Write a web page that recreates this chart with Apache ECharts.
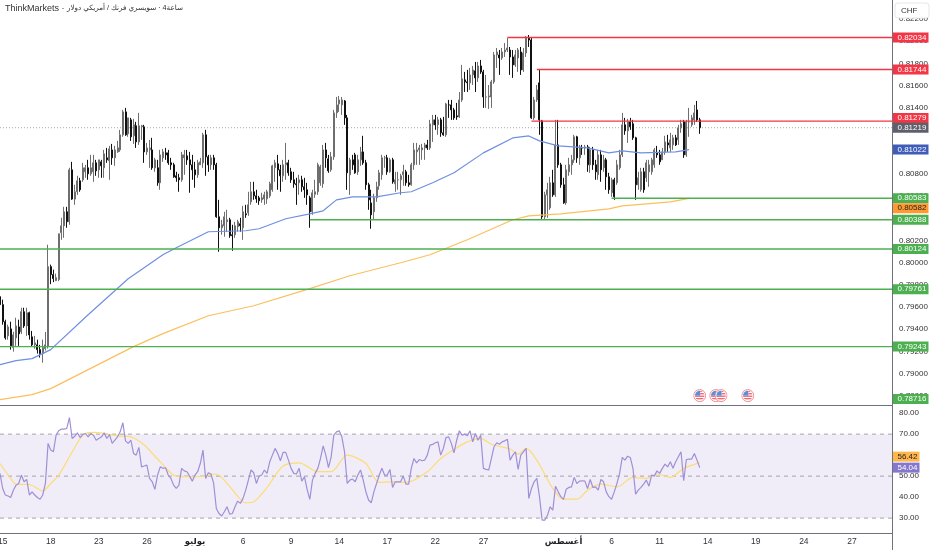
<!DOCTYPE html>
<html><head><meta charset="utf-8">
<style>html,body{margin:0;padding:0;background:#fff}#c{width:932px;height:550px}</style>
<script src="https://cdn.jsdelivr.net/npm/echarts@6/dist/echarts.min.js"></script>
</head><body><div id="c"></div>
<script>
// Prices are in units of 0.00001 CHF
const opens=[79694,79622,79468,79340,79403,79234,79322,79421,79376,79558,79430,79549,79331,79259,79259,79216,79180,79225,79243,79965,79893,79839,79848,80271,80334,80460,80370,80839,80575,80641,80740,80749,80821,80857,80803,80821,80902,80839,80911,80857,80947,80920,81019,80947,81001,81019,81155,81362,81164,81290,81146,81236,81091,81227,81227,81001,81019,81019,80857,80857,80722,80947,80992,80992,80902,80884,80785,80767,80749,80947,80965,80929,80884,80839,80794,80884,80902,81155,80956,80884,80947,80884,80415,80316,80334,80370,80388,80253,80253,80325,80352,80316,80442,80451,80550,80641,80604,80586,80568,80577,80577,80604,80659,80857,80893,80839,80785,80884,80902,80821,80749,80713,80722,80749,80686,80659,80586,80460,80618,80641,80722,80713,81019,80938,80839,80956,81353,81434,81425,81461,81308,80794,80929,80974,80821,80929,81001,80902,80704,80540,80460,80586,80695,80794,80947,80947,80821,80929,80713,80749,80749,80794,80821,80722,80704,80884,81001,81019,81019,81037,81064,81037,81245,81290,81245,81290,81173,81155,81425,81425,81380,81326,81317,81470,81651,81633,81624,81696,81732,81669,81777,81723,81497,81497,81497,81633,81876,81876,81849,81903,81921,81921,81858,81786,81849,81903,81741,81894,82029,82011,81308,81470,81624,81281,80415,80613,80496,80722,80613,81064,80884,80704,80541,80821,80884,80929,81137,80947,81037,81037,81046,80884,81019,80884,80794,80974,80857,80929,80776,80632,80749,80722,80857,80974,81245,81191,81272,81254,81128,80704,80659,80821,80767,80821,80821,80884,80992,80974,80929,81001,81082,81037,81064,81128,81109,81218,81272,80974,81272,81245,81290,81380,81290];
const closes=[79622,79468,79322,79421,79250,79349,79430,79358,79558,79430,79549,79349,79259,79277,79216,79180,79234,79259,79965,79893,79857,79866,80262,80334,80460,80370,80839,80575,80641,80740,80659,80857,80857,80803,80857,80902,80830,80929,80875,80983,80929,81028,80947,81019,81037,81155,81362,81155,81308,81137,81245,81091,81236,81236,81001,81037,81037,80857,80929,80722,80974,81001,80974,80902,80884,80776,80767,80749,80974,80974,80929,80884,80839,80794,80902,80911,81155,80956,80884,80947,80884,80415,80316,80343,80415,80388,80244,80244,80334,80370,80334,80460,80433,80523,80641,80604,80577,80559,80586,80613,80641,80713,80875,80902,80839,80785,80884,80902,80812,80749,80713,80704,80749,80686,80659,80613,80460,80632,80641,80884,80866,81019,80947,80830,80956,81353,81425,81470,81470,81308,80812,80929,80884,80812,80929,81001,80902,80704,80568,80433,80586,80686,80812,80947,80947,80821,80929,80731,80749,80749,80785,80821,80722,80704,80884,81019,81019,81037,81037,81064,81037,81254,81290,81245,81290,81173,81155,81434,81425,81380,81308,81317,81470,81660,81633,81624,81696,81741,81669,81777,81723,81497,81497,81506,81633,81876,81903,81849,81903,81921,81939,81858,81786,81876,81921,81741,81894,82038,82011,81308,81470,81560,81290,80415,80613,80659,80722,80613,81064,80884,80704,80541,80839,80884,80929,81137,80947,81046,81037,81046,80884,81019,80884,80821,80974,80839,80929,80776,80659,80749,80595,80884,80974,81245,81191,81272,81227,81128,80704,80767,80821,80659,80902,80884,80929,81019,80974,80911,81001,81091,81064,81109,81128,81064,81218,81254,80974,81272,81272,81308,81353,81290,81219];
const highs=[79730,79667,79486,79441,79468,79376,79504,79486,79594,79594,79594,79558,79385,79340,79306,79259,79306,79376,80163,79983,79938,79902,80262,80406,80505,80505,80857,80911,80704,80785,80767,80902,80884,80929,80974,80974,80929,80929,80929,81019,81037,81055,81073,81055,81100,81200,81380,81398,81308,81308,81299,81272,81353,81245,81245,81082,81109,81128,80947,80929,81019,81028,81037,81019,80947,80902,80821,80803,81001,81019,81019,81001,80974,80911,80929,80947,81173,81200,80974,80974,80974,80902,80568,80388,80460,80478,80406,80343,80370,80388,80406,80514,80523,80641,80731,80731,80659,80604,80632,80641,80659,80731,80884,80929,80974,80884,80929,81082,80929,80857,80821,80767,80794,80785,80767,80722,80604,80659,80749,80902,80884,81064,81082,80974,81001,81380,81497,81506,81497,81470,81335,80947,80974,80992,80974,81046,81146,80929,80722,80659,80623,80731,80839,80974,80965,80974,80947,80947,80821,80821,80803,80884,80839,80794,80902,81082,81082,81064,81073,81082,81109,81290,81335,81335,81317,81308,81317,81443,81470,81470,81398,81443,81542,81786,81723,81741,81759,81777,81813,81813,81831,81741,81696,81605,81651,81903,81939,81921,81939,81984,82029,81948,81921,81921,81939,81948,81939,82047,82056,82038,81497,81605,81741,81290,80641,80722,80776,80839,81290,81290,80902,80767,80884,80947,80974,81155,81146,81064,81064,81064,81064,81046,81046,80929,81019,81019,80974,80947,80812,80767,80767,80929,81019,81353,81308,81299,81308,81290,81137,80821,80857,80857,80929,80929,80947,81037,81055,81019,81037,81146,81155,81173,81155,81155,81245,81290,81290,81290,81398,81335,81425,81461,81308];
const lows=[79594,79441,79306,79306,79216,79198,79250,79250,79358,79412,79340,79306,79243,79225,79180,79144,79098,79207,79225,79807,79825,79834,79834,80207,80225,80316,80343,80568,80523,80613,80641,80731,80767,80749,80785,80731,80785,80767,80767,80767,80902,80749,80884,80875,80992,81001,81137,81146,81137,81100,81073,81037,81064,81109,80902,80974,80857,80839,80821,80695,80659,80911,80929,80884,80839,80767,80731,80641,80731,80794,80884,80632,80749,80677,80767,80884,80857,80785,80821,80839,80839,80406,80099,80253,80235,80280,80225,80108,80225,80280,80280,80207,80406,80424,80523,80568,80541,80523,80541,80523,80532,80586,80641,80731,80659,80641,80731,80749,80785,80722,80677,80523,80613,80641,80586,80523,80316,80433,80586,80613,80695,80677,80857,80812,80821,80929,81308,81362,81335,81245,80659,80613,80839,80803,80794,80875,80884,80659,80478,80307,80388,80550,80659,80749,80857,80794,80812,80713,80641,80659,80613,80695,80695,80686,80695,80839,80884,80884,80929,80929,81019,81019,81091,81200,81155,81137,81146,81137,81308,81290,81290,81290,81308,81452,81542,81542,81560,81605,81542,81633,81705,81398,81398,81389,81398,81615,81759,81696,81831,81858,81903,81696,81669,81768,81723,81696,81723,81858,81948,81299,81290,81452,81155,80396,80396,80406,80478,80595,80595,80857,80677,80532,80523,80785,80794,80902,80902,80884,80974,80974,80821,80812,80839,80749,80749,80731,80821,80659,80623,80595,80568,80704,80839,80956,81155,81082,81200,81109,80568,80659,80641,80632,80731,80686,80794,80857,80947,80884,80929,80974,81001,81001,81019,81055,81064,81173,80947,80956,81137,81227,81245,81272,81164];

const rsi=[51.3,44.1,41,40.5,39.8,43.3,45.7,46.5,50.5,47.3,48.4,41,42.5,41,39.8,39,41,46.5,65.6,62.4,61.6,69.5,71.6,72.4,72.4,72.7,77.9,67.9,69,70.6,68.4,69.8,70.3,68.7,70.3,69.5,67.1,67.9,68.7,70.6,67.9,69.8,65.6,67.1,68.7,71.1,75.4,66.8,65.6,67.1,60.8,60,63.7,54.4,54.8,55.2,48.9,47.3,43.7,50.5,54.4,53.7,54,50.5,48.9,45.7,44.1,45.7,53.7,52.5,52.1,50,47.6,50.5,52.1,56,62.4,48.9,51.6,51,46.5,34.6,32.2,31,33,35.4,31.9,32.2,35.4,38.1,37,39.4,43.3,48.1,52.9,51.6,46.5,50,50.5,52.9,51.3,56.8,60,63.2,60.8,57.3,61.3,61.3,57.6,53.7,51.3,51,53.7,47.6,49.7,43.7,38.9,48.1,51.3,53.7,58.4,64.4,60,54.1,59.2,69.5,71.1,71.6,68.7,61.6,46.5,48.1,
48.6,47.3,50.5,52.9,48.1,42.5,38.6,37.3,42.5,46.5,50.5,53.7,50.5,50.5,53.2,44.6,47.3,47.3,47.3,50,46.2,46.2,53.7,58.4,56.3,57.9,57.3,57.6,60,64.8,65.1,65.9,66.3,60,63.2,68.4,68.7,65.6,61.1,67.1,71.6,69.5,70,69.2,71.6,66.3,70.3,67.1,69.5,53.7,53.2,52.9,58.4,64,65.9,65.2,66.3,66.8,67.5,57.6,60,61.6,53.2,60,61.6,63.2,39.4,44.1,47.3,48.9,40.2,29,29,31.4,35.4,33.8,45.2,42.5,40.2,38.9,43.7,44.6,44.9,49.4,46.5,47.6,47.8,47.6,44.1,48.4,44.6,44.9,43.3,48.4,47.3,42.5,40.2,39,42.5,46.5,51.3,58.9,57.6,59.5,58.9,53.7,41.4,43.3,44.6,46.2,48.1,45.2,50.5,50,52.5,51.3,53.7,55.7,54.4,56.8,53.7,56.8,59.2,61.6,47.8,57.9,58.1,58.1,60.8,57.6,54.04];
// RSI moving average, read at the bars where its bends are visible
const rsiMaBars=[0,4,6,11,16,19,22,26,30,32,35,39,44,49,54,60,66,74,81,85,90,92,95,100,106,112,119,124,130,137,142,147,152,160,165,170,175,180,184,191,194,197,201,207,211,216,220,225,231,237,242,246,251,256,262];
const rsiMaVals=[56,48.9,46.2,46,43,46.5,50.5,59.2,67.9,70.3,70.8,70.3,69.2,68.7,64.8,56.8,50,49.7,51,46.5,38.9,37.3,37.8,44.6,54.8,56.3,52.1,52.1,60,56,47,47.3,47,52.1,58.4,62.7,66.3,67.9,65.2,62.9,60.5,63.2,57.6,44.1,39,39,43.3,46.2,44.9,49.4,48.9,51,49.4,53.7,56.42];
// Moving averages on the price pane
const blueBars=[0,6,12,19,33,48,61,66,78,92,97,107,116,121,126,132,141,150,154,162,170,181,192,198,202,209,220,228,233,240,253,258];
const blueVals=[79080,79117,79135,79216,79531,79856,80072,80136,80280,80289,80307,80397,80442,80469,80568,80595,80595,80632,80641,80722,80812,80992,81127,81145,81100,81055,81037,80992,81010,80992,81001,81022];
const orangeBars=[0,12,19,50,61,78,95,116,131,150,161,175,192,198,210,228,233,251,258];
const orangeVals=[78765,78810,78864,79243,79360,79522,79612,79766,79883,80000,80072,80208,80388,80424,80442,80487,80514,80550,80582];

const levelVals=[0.82034,0.81744,0.81279,0.80583,0.80388,0.80124,0.79761,0.79243];
const levelStartBars=[190,201,199,229,116,0,0,0];
const levelColors=['#f23645','#f23645','#f23645','#4caf50','#4caf50','#4caf50','#4caf50','#4caf50'];
const lastPrice=0.81219;

const tagVals=[0.82034,0.81744,0.81279,0.81219,0.81022,0.80583,0.80582,0.80388,0.80124,0.79761,0.79243,0.78716];
const tagColors=['#f23645','#f23645','#f23645','#5d606b','#3f5cb8','#4caf50','#ff9a33','#4caf50','#4caf50','#4caf50','#4caf50','#4caf50'];
const tagText=['#fff','#fff','#fff','#fff','#fff','#fff','#222','#fff','#fff','#fff','#fff','#fff'];
const tagShift=[0,0,-3,0,0,0,10,0,0,0,0,-6];

const rsiTagVals=[56.42,54.04];
const rsiTagColors=['#ffb74d','#8577cc'];
const rsiTagText=['#222','#fff'];
const rsiTagShift=[-6,0];

const priceTicks=[0.822,0.82,0.818,0.816,0.814,0.812,0.81,0.808,0.806,0.804,0.802,0.8,0.798,0.796,0.794,0.792,0.79,0.788];
const rsiTicks=[80,70,60,50,40,30];
const rsiBands=[70,50,30];

const tickBars=[1,19,37,55,73,91,109,127,145,163,181,211,229,247,265,283,301,319];
const tickLabels=['15','18','23','26','يوليو','6','9','14','17','22','27','أغسطس','6','11','14','19','24','27'];
const boldTicks=['يوليو','أغسطس'];
const flagBars=[262,268,270,280];
const flagPrice=0.78801;

const titleLatin='ThinkMarkets ·';
const titleParts=['دولار','أمريكي','/','فرنك','سويسري','·','4ساعة'];
const barCount=335, lastBar=barCount-1;
const font='"Liberation Sans","DejaVu Sans",sans-serif';

const flagSvg='<svg xmlns="http://www.w3.org/2000/svg" width="26" height="26" viewBox="0 0 26 26"><defs><clipPath id="a"><circle cx="13" cy="13" r="9.5"/></clipPath></defs><circle cx="13" cy="13" r="12" fill="#fff" stroke="#f58a94" stroke-width="2"/><g clip-path="url(#a)"><rect width="26" height="26" fill="#fff"/><rect y="13" width="26" height="2.5" fill="#ef5a67"/><rect y="18" width="26" height="2.5" fill="#ef5a67"/><rect y="3" x="14" width="12" height="2.5" fill="#ef5a67"/><rect y="8" x="14" width="12" height="2.5" fill="#ef5a67"/><rect width="14" height="13" fill="#5b8fd8"/></g></svg>';
const flagSymbol='image://data:image/svg+xml;charset=utf-8,'+encodeURIComponent(flagSvg);

const categories=Array.from({length:barCount},(_,i)=>{const k=tickBars.indexOf(i);return k<0?'':tickLabels[k];});
const candles=opens.map((o,i)=>[o/1e5,closes[i]/1e5,lows[i]/1e5,highs[i]/1e5]);
const pairs=(b,v,s)=>b.map((x,i)=>[x,v[i]*s]);
const tagLabel=(color,text,shift,w,fmt)=>({show:true,position:'right',distance:0,offset:[0,shift],width:w,height:10,lineHeight:10,padding:[0,0,0,5],opacity:1,
  backgroundColor:color,color:text,fontSize:8,fontFamily:font,align:'left',verticalAlign:'middle',formatter:fmt});

const chart=echarts.init(document.getElementById('c'),null,{renderer:'canvas'});
const xBase={type:'category',data:categories,boundaryGap:false,axisTick:{show:false},splitLine:{show:false}};
chart.setOption({
 animation:false,backgroundColor:'#fff',
 title:{text:'{t|'+titleLatin+'\u00A0}'+titleParts.map(p=>'{a|'+p+'\u00A0}').join(''),left:5,top:4,padding:0,
  textStyle:{fontSize:9,color:'#333',fontFamily:font,rich:{t:{fontSize:9,fontWeight:'normal',color:'#333',fontFamily:font},a:{fontSize:7.2,fontWeight:'normal',color:'#333',fontFamily:font}}}},
 grid:[{left:0,right:40,top:0,height:405,outerBoundsMode:'none'},{left:0,right:40,top:406,height:127,outerBoundsMode:'none'}],
 xAxis:[
  {...xBase,gridIndex:0,axisLine:{show:true,lineStyle:{color:'#6f727c',width:1}},axisLabel:{show:false}},
  {...xBase,gridIndex:1,axisLine:{show:true,lineStyle:{color:'#6f727c',width:1}},
   axisLabel:{show:true,interval:0,margin:4,color:'#333',fontSize:8.5,fontFamily:font,
    formatter:v=>boldTicks.includes(v)?'{b|'+v+'}':v,rich:{b:{fontWeight:'bold',fontSize:8.5,color:'#222',fontFamily:font}}}}
 ],
 yAxis:[
  {type:'value',gridIndex:0,position:'right',min:0.78716,max:0.82372,scale:true,axisLine:{show:false},splitLine:{show:false},
   axisTick:{show:false,customValues:priceTicks},
   axisLabel:{show:true,customValues:priceTicks,inside:false,margin:7,color:'#333',fontSize:8,fontFamily:font,formatter:v=>v.toFixed(5)}},
  {type:'value',gridIndex:1,position:'right',min:22.9,max:83.4,axisLine:{show:false},splitLine:{show:false},
   axisTick:{show:false,customValues:rsiTicks},
   axisLabel:{show:true,customValues:rsiTicks,margin:7,color:'#333',fontSize:8,fontFamily:font,formatter:v=>v.toFixed(2)}}
 ],
 series:[
  {type:'candlestick',xAxisIndex:0,yAxisIndex:0,data:candles,barWidth:1.5,z:3,
   itemStyle:{color:'#a6a6a6',color0:'#111',borderColor:'#6e6e6e',borderColor0:'#111',borderWidth:1}},
  {type:'line',xAxisIndex:0,yAxisIndex:0,data:pairs(blueBars,blueVals,1e-5),showSymbol:false,z:4,lineStyle:{color:'#6f8fe0',width:1.2}},
  {type:'line',xAxisIndex:0,yAxisIndex:0,data:pairs(orangeBars,orangeVals,1e-5),showSymbol:false,z:4,lineStyle:{color:'#fbbf5d',width:1.2}},
  {type:'line',xAxisIndex:0,yAxisIndex:0,data:[[0,lastPrice],[lastBar,lastPrice]],showSymbol:false,z:2,lineStyle:{color:'#a5a7ad',width:1,type:[1,2]}},
  ...levelVals.map((v,i)=>({type:'line',xAxisIndex:0,yAxisIndex:0,data:[[levelStartBars[i],v],[lastBar,v]],showSymbol:false,z:5,lineStyle:{color:levelColors[i],width:1.4}})),
  {type:'scatter',xAxisIndex:0,yAxisIndex:0,z:6,symbol:flagSymbol,symbolSize:13,itemStyle:{opacity:1},data:flagBars.map(b=>[b,flagPrice])},
  {type:'scatter',xAxisIndex:0,yAxisIndex:0,z:20,symbolSize:1,clip:false,itemStyle:{color:'transparent',opacity:1},
   data:tagVals.map((v,i)=>({value:[lastBar,v],label:tagLabel(tagColors[i],tagText[i],tagShift[i],31,p=>p.value[1].toFixed(5))}))},
  {type:'line',xAxisIndex:1,yAxisIndex:1,data:rsiBands.flatMap(b=>[[0,b],[lastBar,b],null]).map(p=>p||'-'),showSymbol:false,z:2,connectNulls:false,
   lineStyle:{color:'#a3a3a8',width:1,type:[4,4]},
   markArea:{silent:true,itemStyle:{color:'#f0edf8'},data:[[{yAxis:70},{yAxis:30}]]}},
  {type:'line',xAxisIndex:1,yAxisIndex:1,data:rsi,showSymbol:false,z:4,lineStyle:{color:'#a08fd6',width:1.2}},
  {type:'line',xAxisIndex:1,yAxisIndex:1,data:pairs(rsiMaBars,rsiMaVals,1),showSymbol:false,smooth:0.3,z:3,lineStyle:{color:'#fddc75',width:1.2}},
  {type:'scatter',xAxisIndex:1,yAxisIndex:1,z:20,symbolSize:1,clip:false,itemStyle:{color:'transparent',opacity:1},
   data:rsiTagVals.map((v,i)=>({value:[lastBar,v],label:tagLabel(rsiTagColors[i],rsiTagText[i],rsiTagShift[i],22,p=>p.value[1].toFixed(2))}))}
 ],
 graphic:[
  {type:'line',z:30,shape:{x1:892.5,y1:0,x2:892.5,y2:550},style:{stroke:'#6f727c',lineWidth:1}},
  {type:'rect',z:30,shape:{x:895,y:3,width:34,height:15,r:3},style:{fill:'#fff',stroke:'#e6e7eb',lineWidth:1}},
  {type:'text',z:31,left:901,top:7,style:{text:'CHF',fill:'#333',font:'8px '+font}}
 ]
});
</script></body></html>
